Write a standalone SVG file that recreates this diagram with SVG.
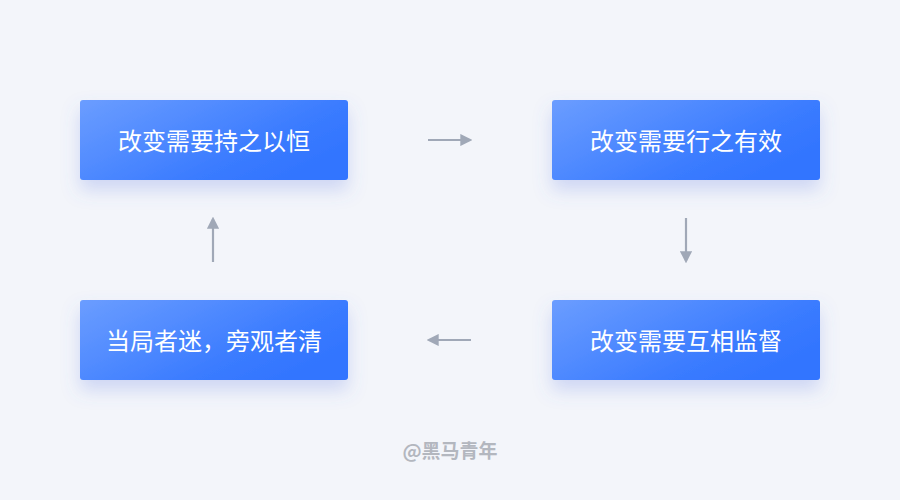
<svg xmlns="http://www.w3.org/2000/svg" width="900" height="500" viewBox="0 0 900 500">
<defs>
<linearGradient id="g" x1="0" y1="0" x2="1" y2="0.6">
<stop offset="0" stop-color="#6b9dff"/>
<stop offset="0.75" stop-color="#3a7bff"/>
<stop offset="1" stop-color="#3275ff"/>
</linearGradient>
<filter id="sh" x="-20%" y="-30%" width="140%" height="190%">
<feDropShadow dx="0" dy="10" stdDeviation="9" flood-color="#5a78e0" flood-opacity="0.25"/>
</filter>
<marker id="ah" viewBox="0 0 10 10" refX="8" refY="5" markerWidth="5.5" markerHeight="5.5" orient="auto" markerUnits="strokeWidth">
<path d="M0,0 L10,5 L0,10 z" fill="#a0a8b7"/>
</marker>
<style>
.box{fill:url(#g);filter:url(#sh);}
.lbl{fill:#ffffff;font-family:"Noto Sans CJK SC","Noto Sans",sans-serif;font-size:24px;text-anchor:middle;dominant-baseline:central;}
.conn{stroke:#a0a8b7;stroke-width:2.2;fill:none;marker-end:url(#ah);}
.wm{fill:#b3b7bf;font-family:"Noto Sans CJK SC","Noto Sans",sans-serif;font-size:19px;font-weight:bold;text-anchor:middle;dominant-baseline:central;}
</style>
</defs>
<rect width="900" height="500" fill="#f3f5fa"/>
<g id="n1"><rect class="box" x="80" y="100" width="268" height="80" rx="3"/><text class="lbl" x="214" y="139">改变需要持之以恒</text></g>
<g id="n2"><rect class="box" x="552" y="100" width="268" height="80" rx="3"/><text class="lbl" x="686" y="139">改变需要行之有效</text></g>
<g id="n3"><rect class="box" x="552" y="300" width="268" height="80" rx="3"/><text class="lbl" x="686" y="339">改变需要互相监督</text></g>
<g id="n4"><rect class="box" x="80" y="300" width="268" height="80" rx="3"/><text class="lbl" x="214" y="339">当局者迷，旁观者清</text></g>
<g id="connectors">
<path class="conn" d="M428,140 H470"/>
<path class="conn" d="M686,218 V261"/>
<path class="conn" d="M471,340 H429"/>
<path class="conn" d="M213,262 V219"/>
</g>
<text class="wm" x="450" y="449">@黑马青年</text>
</svg>
